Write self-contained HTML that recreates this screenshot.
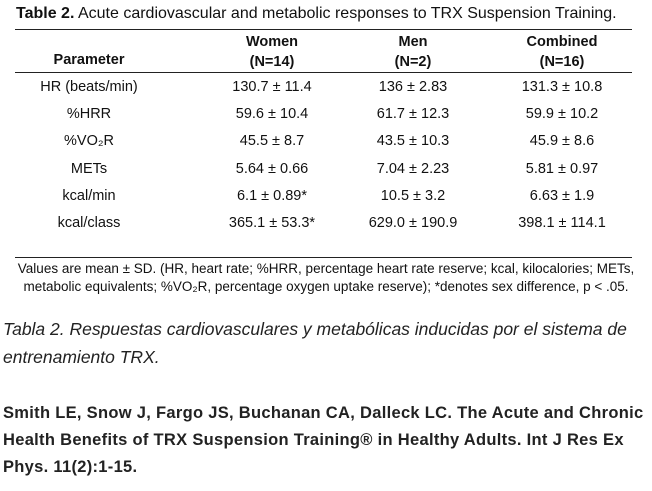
<!DOCTYPE html>
<html><head><meta charset="utf-8"><style>
body{margin:0;width:652px;height:491px;background:#fff;position:relative;overflow:hidden;font-family:"Liberation Sans",sans-serif;color:#111}
.a{position:absolute;white-space:nowrap}
.c{position:absolute;transform:translateX(-50%);white-space:nowrap;font-size:14.5px;text-align:center}
.rule{position:absolute;left:15px;width:617px;height:1px;background:#222}
.b{font-weight:bold}
.sp{font-size:17.5px;font-style:italic;color:#222}
.ct{font-size:16.5px;font-weight:bold;color:#222;letter-spacing:0.3px}
</style></head><body>
<div class="a" style="left:16px;top:5px;font-size:16px"><b>Table 2.</b> Acute cardiovascular and metabolic responses to TRX Suspension Training.</div>
<div class="rule" style="top:29px"></div>
<div class="c b" style="left:89px;top:52px">Parameter</div>
<div class="c b" style="left:272px;top:32px;line-height:20px">Women<br>(N=14)</div>
<div class="c b" style="left:413px;top:32px;line-height:20px">Men<br>(N=2)</div>
<div class="c b" style="left:562px;top:32px;line-height:20px">Combined<br>(N=16)</div>
<div class="rule" style="top:72px"></div>
<div id="rows"></div>
<div class="rule" style="top:257px"></div>
<div class="a" style="left:0;width:652px;top:260px;font-size:13.5px;line-height:18px;text-align:center">Values are mean ± SD. (HR, heart rate; %HRR, percentage heart rate reserve; kcal, kilocalories; METs,<br>metabolic equivalents; %VO₂R, percentage oxygen uptake reserve); *denotes sex difference, p &lt; .05.</div>
<div class="a sp" style="left:3px;top:315px;line-height:28px">Tabla 2. Respuestas cardiovasculares y metabólicas inducidas por el sistema de<br>entrenamiento TRX.</div>
<div class="a ct" style="left:3px;top:400px;line-height:27px">Smith LE, Snow J, Fargo JS, Buchanan CA, Dalleck LC. The Acute and Chronic<br>Health Benefits of TRX Suspension Training® in Healthy Adults. Int J Res Ex<br>Phys. 11(2):1-15.</div>
<script>
const params=["HR (beats/min)","%HRR","%VO₂R","METs","kcal/min","kcal/class"];
const women=["130.7 ± 11.4","59.6 ± 10.4","45.5 ± 8.7","5.64 ± 0.66","6.1 ± 0.89*","365.1 ± 53.3*"];
const men=["136 ± 2.83","61.7 ± 12.3","43.5 ± 10.3","7.04 ± 2.23","10.5 ± 3.2","629.0 ± 190.9"];
const combined=["131.3 ± 10.8","59.9 ± 10.2","45.9 ± 8.6","5.81 ± 0.97","6.63 ± 1.9","398.1 ± 114.1"];
const host=document.getElementById('rows');
const cols=[[params,89],[women,272],[men,413],[combined,562]];
params.forEach((p,i)=>{
  cols.forEach(([arr,x],j)=>{
    const d=document.createElement('div');
    d.className='c';
    d.style.left=x+'px';
    d.style.top=(79+i*27.2)+'px';
    d.textContent=arr[i];
    
    
    host.appendChild(d);
  });
});
</script>
</body></html>
